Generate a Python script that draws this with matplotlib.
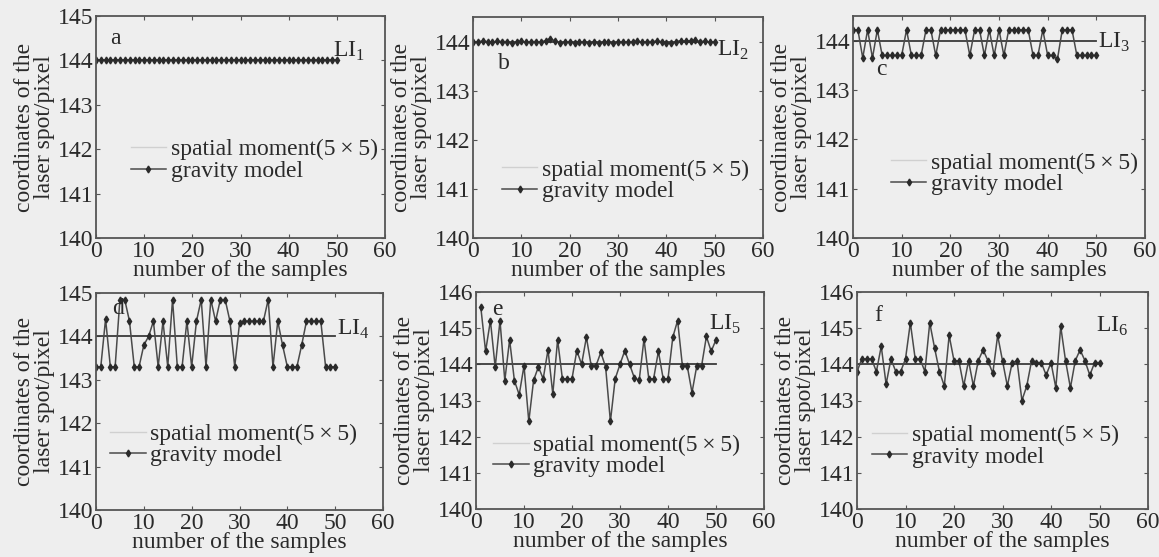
import matplotlib
matplotlib.use("Agg")
import matplotlib.pyplot as plt
import numpy as np

plt.rcParams['font.family'] = ['Liberation Serif', 'DejaVu Serif']
plt.rcParams['mathtext.fontset'] = 'custom'
plt.rcParams['mathtext.rm'] = 'Liberation Serif'
plt.rcParams['font.size'] = 17

# true spot position (spatial moment, 5x5) and gravity model results per light intensity
spatial = 144.0
H, L = 144.22, 143.70

grav_a = [144.0] * 51
grav_b = [143.99, 144.00, 144.01, 144.00, 143.99, 144.01, 144.00, 144.00, 143.98, 144.00,
          144.01, 143.99, 144.00, 144.00, 143.99, 144.02, 144.06, 144.01, 143.98, 143.99,
          144.00, 143.98, 143.99, 144.00, 143.98, 143.99, 143.97, 143.99, 144.00, 143.98,
          143.99, 144.00, 143.99, 144.00, 144.01, 143.99, 144.00, 144.00, 144.01, 144.00,
          143.98, 143.97, 144.00, 144.02, 144.01, 144.02, 144.03, 144.00, 144.01, 143.99,
          144.00]
grav_c = [H, H, 143.65, H, 143.65, H, L, L, L, L,
          L, H, L, L, L, H, H, L, H, H,
          H, H, H, H, L, H, H, L, H, L,
          H, L, H, H, H, H, H, L, L, H,
          L, L, 143.62, H, H, H, L, L, L, L,
          L]
grav_d = [143.3, 143.3, 144.4, 143.3, 143.3, 144.85, 144.85, 144.35, 143.3, 143.3,
          143.8, 144.0, 144.35, 143.3, 144.35, 143.3, 144.85, 143.3, 143.3, 144.35,
          143.3, 144.35, 144.85, 143.3, 144.85, 144.35, 144.85, 144.85, 144.35, 143.3,
          144.3, 144.35, 144.35, 144.35, 144.35, 144.35, 144.85, 143.3, 144.35, 143.8,
          143.3, 143.3, 143.3, 143.8, 144.35, 144.35, 144.35, 144.35, 143.3, 143.3,
          143.3]
grav_e = [145.58, 144.36, 145.21, 143.92, 145.21, 143.55, 144.68, 143.55, 143.16, 143.96,
          142.42, 143.56, 143.93, 143.6, 144.4, 143.18, 144.68, 143.6, 143.6, 143.6,
          144.38, 144.0, 144.75, 143.96, 143.96, 144.33, 143.93, 142.42, 143.6, 144.0,
          144.38, 144.0, 143.62, 143.56, 144.7, 143.6, 143.6, 144.36, 143.6, 143.6,
          144.75, 145.21, 143.96, 143.96, 143.22, 143.96, 143.96, 144.77, 144.36, 144.68]
grav_f = [143.8, 144.15, 144.15, 144.15, 143.8, 144.5, 143.45, 144.15, 143.8, 143.8,
          144.15, 145.15, 144.15, 144.15, 143.8, 145.15, 144.45, 143.8, 143.4, 144.8,
          144.1, 144.1, 143.4, 144.1, 143.4, 144.1, 144.4, 144.1, 143.75, 144.8,
          144.1, 143.4, 144.05, 144.1, 143.0, 143.4, 144.1, 144.05, 144.05, 143.7,
          144.05, 143.35, 145.05, 144.1, 143.35, 144.1, 144.4, 144.1, 143.7, 144.05,
          144.05]

panels = [
    ('a', '1', grav_a, 0, (140, 145), [96, 385, 16, 238], (0.05, 0.90), (0.82, 0.84), (0.12, 0.35)),
    ('b', '2', grav_b, 0, (140, 144.5), [473, 763, 17, 238], (0.085, 0.79), (0.84, 0.85), (0.10, 0.26)),
    ('c', '3', grav_c, 0, (140, 144.5), [853, 1145, 16, 238], (0.08, 0.76), (0.84, 0.88), (0.13, 0.29)),
    ('d', '4', grav_d, 0, (140, 145), [96, 383, 293, 510], (0.055, 0.93), (0.84, 0.83), (0.05, 0.30)),
    ('e', '5', grav_e, 1, (140, 146), [476, 764, 292, 509], (0.055, 0.92), (0.81, 0.85), (0.06, 0.245)),
    ('f', '6', grav_f, 0, (140, 146), [857, 1148, 292, 509], (0.06, 0.89), (0.82, 0.84), (0.05, 0.29)),
]

W, Hpx = 1159, 557
fig = plt.figure(figsize=(W / 100, Hpx / 100), dpi=100, facecolor='#eeeeee')
txt = '#2a2a2a'

for letter, idx, grav, x0, ylim, (l, r, t, b), lpos, lipos, legpos in panels:
    ax = fig.add_axes([l / W, 1 - b / Hpx, (r - l) / W, (b - t) / Hpx])
    ax.set_facecolor('#eeeeee')
    x = np.arange(x0, x0 + len(grav))
    xs = np.arange(0, 51)
    ax.plot(xs, [spatial] * len(xs), color='#3a3a3a', lw=1.3,
            label='spatial moment(5\u2009\u00d7\u20095)')
    ax.plot(x, grav, color='#4a4a4a', lw=1.1, marker='d', ms=3.5,
            mfc='#2a2a2a', mec='#2a2a2a', label='gravity model')
    ax.set_xlim(0, 60)
    ax.set_ylim(*ylim)
    ax.set_xticks(range(0, 61, 10))
    ax.set_yticks(range(140, int(ylim[1]) + 1))
    ax.tick_params(direction='in', top=True, right=True, length=3, pad=2,
                   labelsize=17, colors='#555555', labelcolor=txt)
    for s in ax.spines.values():
        s.set_color('#555555')
        s.set_linewidth(1.3)
    ax.set_xlabel('number of the samples', fontsize=17, color=txt, labelpad=-1)
    ax.set_ylabel('coordinates of the\nlaser spot/pixel', fontsize=17, color=txt,
                  labelpad=2, linespacing=0.9)
    ax.text(lpos[0], lpos[1], letter, transform=ax.transAxes, fontsize=17,
            color=txt, va='center')
    ax.text(lipos[0], lipos[1], r'LI$_{' + idx + '}$', transform=ax.transAxes,
            fontsize=17, color=txt, va='center')
    leg = ax.legend(loc='center left', bbox_to_anchor=legpos, frameon=False,
                    fontsize=17, handlelength=1.5, handletextpad=0.2,
                    labelspacing=0.0, borderpad=0, borderaxespad=0)
    leg.legend_handles[0].set_color('#d0d0d0')
    leg.legend_handles[0].set_linewidth(1.0)
    for tx in leg.get_texts():
        tx.set_color(txt)

fig.savefig('out.png', dpi=100, facecolor=fig.get_facecolor())
